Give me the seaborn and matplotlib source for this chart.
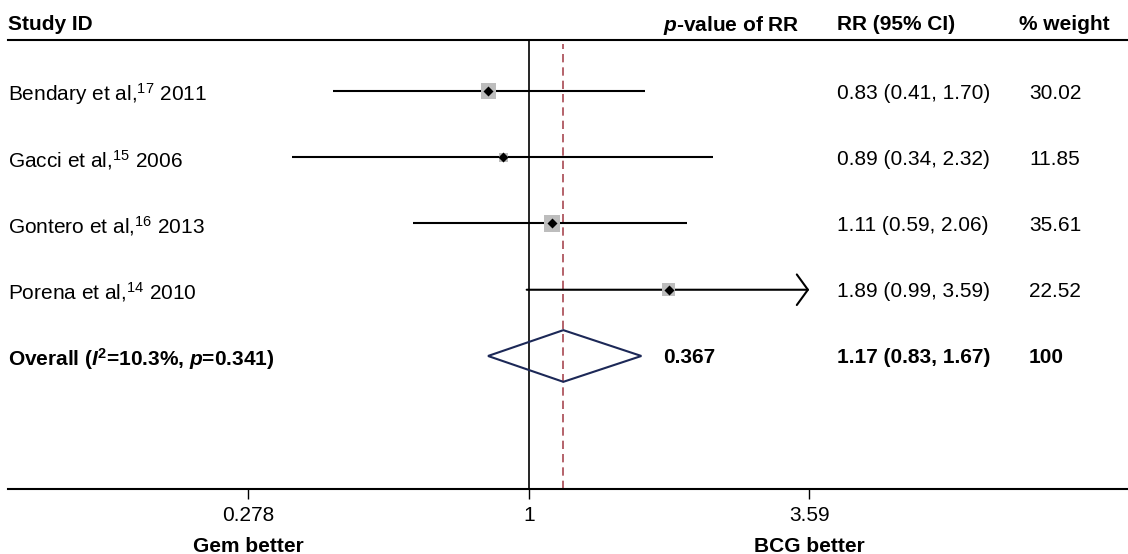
import numpy as np
import pandas as pd
import seaborn as sns
import matplotlib.pyplot as plt

# study data
studies = ["Bendary et al,$^{17}$ 2011", "Gacci et al,$^{15}$ 2006",
           "Gontero et al,$^{16}$ 2013", "Porena et al,$^{14}$ 2010"]
rr = [0.83, 0.89, 1.11, 1.89]
ci_low = [0.41, 0.34, 0.59, 0.99]
ci_high = [1.70, 2.32, 2.06, 3.59]
weights = [30.02, 11.85, 35.61, 22.52]
rr_text = ["0.83 (0.41, 1.70)", "0.89 (0.34, 2.32)", "1.11 (0.59, 2.06)", "1.89 (0.99, 3.59)"]
weight_text = ["30.02", "11.85", "35.61", "22.52"]

overall_label = r"Overall ($\mathbfit{I}^{\mathbf{2}}$=10.3%, $\mathbfit{p}$=0.341)"
overall_rr, overall_low, overall_high = 1.17, 0.83, 1.67
overall_p = "0.367"
overall_rr_text = "1.17 (0.83, 1.67)"
overall_weight = "100"

x_ticks = [0.278, 1, 3.59]
x_ticklabels = ["0.278", "1", "3.59"]

df = pd.DataFrame({"study": studies, "rr": rr, "low": ci_low, "high": ci_high,
                   "weight": weights, "row": np.arange(len(studies))})

sns.set_style("white")
plt.rcParams["font.family"] = ["Liberation Sans", "DejaVu Sans"]
plt.rcParams["text.color"] = "black"
plt.rcParams["mathtext.fontset"] = "custom"
plt.rcParams["mathtext.rm"] = "Liberation Sans"
plt.rcParams["mathtext.it"] = "Liberation Sans:italic"
plt.rcParams["mathtext.bf"] = "Liberation Sans:bold"
plt.rcParams["mathtext.bfit"] = "Liberation Sans:italic:bold"

fig = plt.figure(figsize=(11.28, 5.54), dpi=100)
ax = fig.add_axes([8 / 1128, 65 / 554, 1120 / 1128, 449 / 554])
ax.set_xscale("log")
ax.set_xlim(0.0930, 15.36)
ax.set_ylim(6.008, -0.770)

fs = 15
xmax_show = max(x_ticks)

# reference lines
ax.axvline(1, color="black", lw=1.2, zorder=1)
ax.axvline(overall_rr, ymin=0, ymax=0.99, color="#a84852", lw=1.2,
           ls=(0, (5, 3)), zorder=1)

# confidence intervals
for _, r in df.iterrows():
    if r["high"] >= xmax_show:
        ax.annotate("", xy=(xmax_show, r["row"]), xytext=(r["low"], r["row"]),
                    arrowprops=dict(arrowstyle="->,head_length=0.8,head_width=1.1",
                                    lw=1.5, color="black", shrinkA=0, shrinkB=0))
    else:
        ax.hlines(r["row"], r["low"], r["high"], color="black", lw=1.5, zorder=2)

# weight squares and point estimates
sns.scatterplot(data=df, x="rr", y="row", size="weight",
                sizes=(3.9 * min(weights), 3.9 * max(weights)),
                marker="s", color="#bdbdbd", linewidth=0, legend=False,
                ax=ax, zorder=3)
sns.scatterplot(data=df, x="rr", y="row", marker="D", s=26, color="black",
                linewidth=0, legend=False, ax=ax, zorder=4)

# overall diamond
oy = len(studies)
ax.fill([overall_low, overall_rr, overall_high, overall_rr, overall_low],
        [oy, oy - 0.39, oy, oy + 0.39, oy],
        facecolor="none", edgecolor="#1c2857", lw=1.5, zorder=3)

# text columns (x in axes fraction, y in row units)
tr = ax.get_yaxis_transform()


def col(px):
    return (px - 8) / 1120


hy = -1.04
ax.text(col(8), hy, "Study ID", transform=tr, fontsize=fs, fontweight="bold",
        va="center_baseline", clip_on=False)
ax.text(col(663), hy, r"$\mathbfit{p}$-value of RR", transform=tr, fontsize=fs,
        fontweight="bold", va="center_baseline", clip_on=False)
ax.text(col(837), hy, "RR (95% CI)", transform=tr, fontsize=fs, fontweight="bold",
        va="center_baseline", clip_on=False)
ax.text(col(1019), hy, "% weight", transform=tr, fontsize=fs, fontweight="bold",
        va="center_baseline", clip_on=False)

for i, r in df.iterrows():
    ax.text(col(8), r["row"], r["study"], transform=tr, fontsize=fs,
            va="center_baseline")
    ax.text(col(837), r["row"], rr_text[i], transform=tr, fontsize=fs,
            va="center_baseline")
    ax.text(col(1029), r["row"], weight_text[i], transform=tr, fontsize=fs,
            va="center_baseline")

ax.text(col(8), oy, overall_label, transform=tr, fontsize=fs, fontweight="bold",
        va="center_baseline")
ax.text(col(663), oy, overall_p, transform=tr, fontsize=fs, fontweight="bold",
        va="center_baseline")
ax.text(col(837), oy, overall_rr_text, transform=tr, fontsize=fs, fontweight="bold",
        va="center_baseline")
ax.text(col(1029), oy, overall_weight, transform=tr, fontsize=fs, fontweight="bold",
        va="center_baseline")

# axis styling
for side in ["left", "right"]:
    ax.spines[side].set_visible(False)
for side in ["top", "bottom"]:
    ax.spines[side].set_color("black")
    ax.spines[side].set_linewidth(1.5)
ax.set_yticks([])
ax.set_xticks(x_ticks)
ax.set_xticklabels(x_ticklabels)
ax.minorticks_off()
ax.tick_params(axis="x", direction="out", length=7, width=1, pad=5,
               labelsize=fs, bottom=True, colors="black")
ax.set_xlabel("")
ax.set_ylabel("")

ax.text(x_ticks[0], 6.87, "Gem better", fontsize=fs, fontweight="bold",
        ha="center", va="center", clip_on=False)
ax.text(x_ticks[-1], 6.87, "BCG better", fontsize=fs, fontweight="bold",
        ha="center", va="center", clip_on=False)

fig.savefig("out.png", dpi=100, facecolor="white")
